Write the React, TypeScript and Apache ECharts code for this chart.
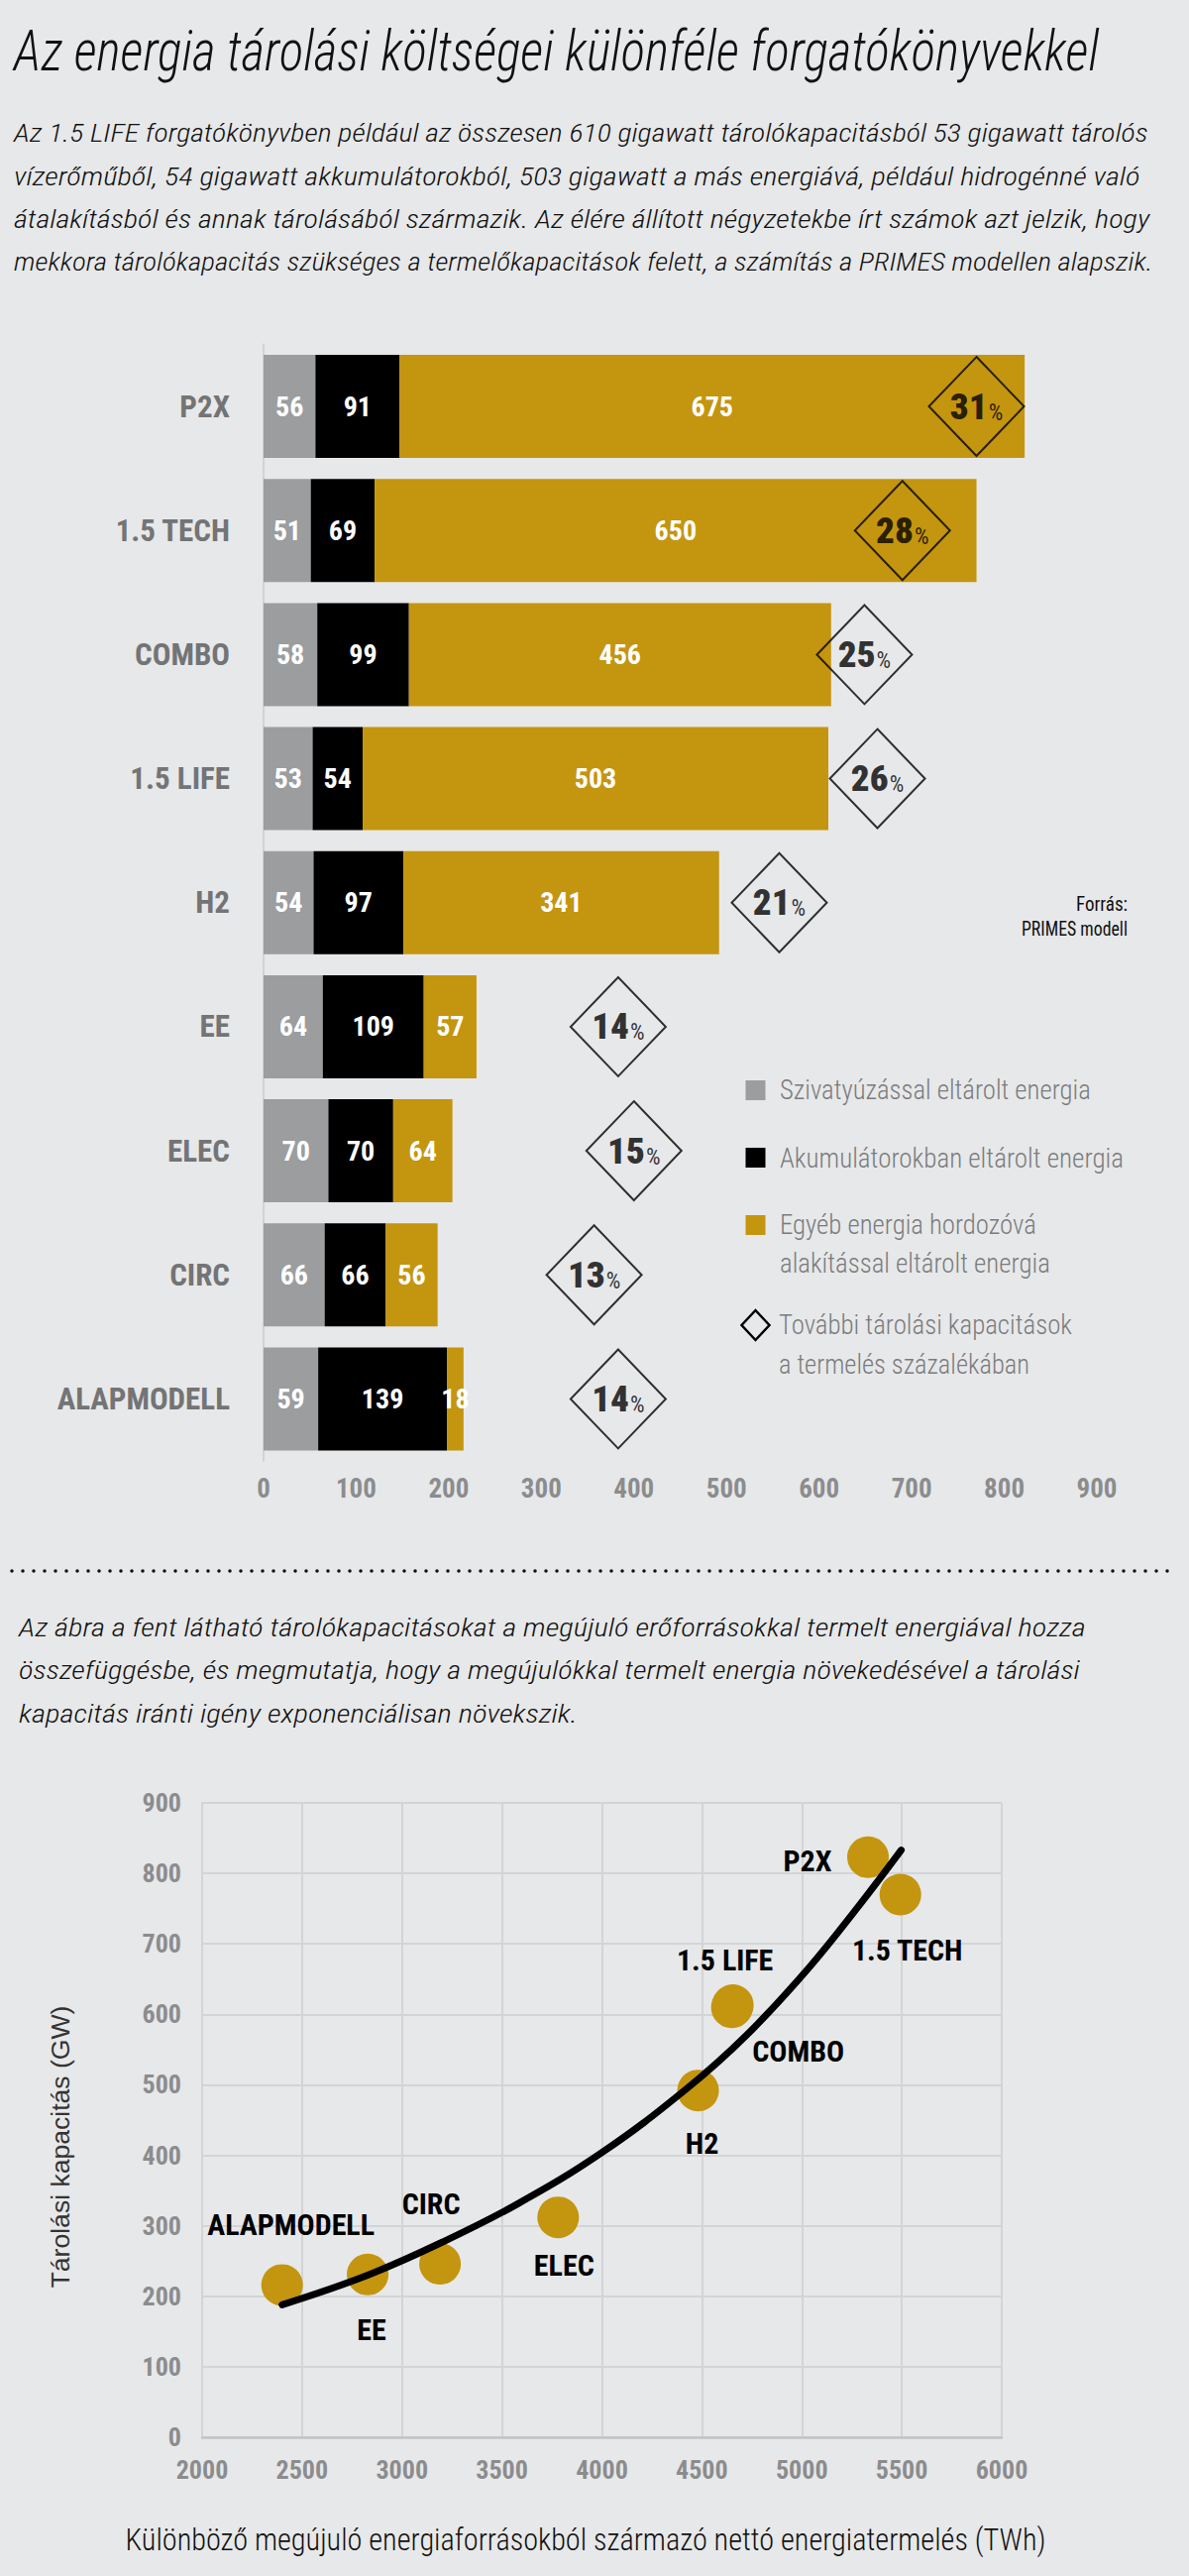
import React, { useEffect, useRef } from "react";
import * as echarts from "echarts";

// ---------- data ----------
const scenarios = ["P2X", "1.5 TECH", "COMBO", "1.5 LIFE", "H2", "EE", "ELEC", "CIRC", "ALAPMODELL"];
const pumpedGW = [56, 51, 58, 53, 54, 64, 70, 66, 59];
const batteryGW = [91, 69, 99, 54, 97, 109, 70, 66, 139];
const otherGW = [675, 650, 456, 503, 341, 57, 64, 56, 18];
const extraPct = [31, 28, 25, 26, 21, 14, 15, 13, 14];
const diamondAt = [770, 690, 649, 663, 557, 383, 400, 357, 383];

const pointNames = ["P2X", "1.5 TECH", "1.5 LIFE", "COMBO", "H2", "ELEC", "CIRC", "EE", "ALAPMODELL"];
const productionTWh = [5331, 5493, 4650, 4655, 4481, 3781, 3190, 2828, 2400];
const capacityGW = [823, 770, 610, 613, 492, 312, 246, 231, 216];
const curveTWh = [2400, 2828, 3203, 3578, 3995, 4413, 4725, 5038, 5288, 5497];
const curveGW = [188, 230, 277, 331, 403, 492, 571, 667, 755, 833];

const legendNames = [
  "Szivatyúzással eltárolt energia",
  "Akumulátorokban eltárolt energia",
  "Egyéb energia hordozóvá",
  "alakítással eltárolt energia",
  "További tárolási kapacitások",
  "a termelés százalékában",
];

const titleText = "Az energia tárolási költségei különféle forgatókönyvekkel";
const introLines = [
  "Az 1.5 LIFE forgatókönyvben például az összesen 610 gigawatt tárolókapacitásból 53 gigawatt tárolós",
  "vízerőműből, 54 gigawatt akkumulátorokból, 503 gigawatt a más energiává, például hidrogénné való",
  "átalakításból és annak tárolásából származik. Az élére állított négyzetekbe írt számok azt jelzik, hogy",
  "mekkora tárolókapacitás szükséges a termelőkapacitások felett, a számítás a PRIMES modellen alapszik.",
];
const secondLines = [
  "Az ábra a fent látható tárolókapacitásokat a megújuló erőforrásokkal termelt energiával hozza",
  "összefüggésbe, és megmutatja, hogy a megújulókkal termelt energia növekedésével a tárolási",
  "kapacitás iránti igény exponenciálisan növekszik.",
];
const sourceLines = ["Forrás:", "PRIMES modell"];
const xName = "Különböző megújuló energiaforrásokból származó nettó energiatermelés (TWh)";
const yName = "Tárolási kapacitás (GW)";

// ---------- styles ----------
const BG = "#e7e8e9";
const GOLD = "#c4950f";
const GRAYBAR = "#9b9d9f";
const CATCOL = "#737476";
const TICKCOL = "#8b8c8e";
const LEGCOL = "#7a7b7d";
const COND = "Roboto Condensed";

const labelOffset: Record<string, number[]> = {
  "P2X": [-61, 4],
  "1.5 TECH": [7, 56],
  "1.5 LIFE": [-7, -48],
  "COMBO": [66, 46],
  "H2": [4, 53],
  "ELEC": [6, 48],
  "CIRC": [-9, -61],
  "EE": [4, 56],
  "ALAPMODELL": [9, -61],
};

let mctx: CanvasRenderingContext2D | null = null;
function textWidth(text: string, font: string) {
  if (!mctx) mctx = document.createElement("canvas").getContext("2d");
  mctx!.font = font;
  return mctx!.measureText(text).width;
}

function fitText(
  text: string, x: number, y: number, width: number,
  o: { size: number; weight?: string | number; style?: string; family?: string; color: string; align?: string; rotation?: number }
) {
  const family = o.family || COND;
  const font = `${o.style || "normal"} ${o.weight || "normal"} ${o.size}px "${family}"`;
  const w = textWidth(text, font);
  return {
    type: "text",
    x, y,
    rotation: o.rotation || 0,
    scaleX: w > 0 ? width / w : 1,
    silent: true,
    style: {
      text,
      fill: o.color,
      fontSize: o.size,
      fontWeight: o.weight || "normal",
      fontStyle: o.style || "normal",
      fontFamily: family,
      textAlign: o.align || "left",
      textVerticalAlign: "middle",
    },
  };
}

export default function App() {
  const ref = useRef<HTMLDivElement>(null);
  useEffect(() => {
    document.body.style.margin = "0";
    if (!ref.current) return;
    const chart = echarts.init(ref.current, undefined, { renderer: "svg" });

    const graphics: any[] = [];
    graphics.push(fitText(titleText, 14, 51, 1095, { size: 58, style: "italic", weight: 300, color: "#111" }));
    introLines.forEach((t, i) => {
      const widths = [1145, 1137, 1147, 1150];
      graphics.push(fitText(t, 14, 134.5 + i * 43.5, widths[i], { size: 25, style: "italic", weight: 300, color: "#111" }));
    });
    graphics.push(fitText(sourceLines[0], 1138, 912, 52, { size: 20, color: "#111", align: "right" }));
    graphics.push(fitText(sourceLines[1], 1138, 937, 107, { size: 20, color: "#111", align: "right" }));

    // legend
    const sq = [GRAYBAR, "#000", GOLD];
    const sqY = [1100, 1168, 1236];
    sq.forEach((c, i) => {
      graphics.push({ type: "rect", silent: true, shape: { x: 752.5, y: sqY[i] - 10, width: 20, height: 20 }, style: { fill: c } });
    });
    graphics.push({
      type: "polygon", silent: true,
      shape: { points: [[762.5, 1322], [776.5, 1337], [762.5, 1352], [748.5, 1337]] },
      style: { fill: "none", stroke: "#000", lineWidth: 2.5 },
    });
    const legY = [1100, 1168, 1236, 1275, 1337, 1377];
    const legW = [314, 347, 259, 273, 296, 253];
    const legX = [787, 787, 787, 787, 786, 786];
    legendNames.forEach((t, i) => {
      graphics.push(fitText(t, legX[i], legY[i], legW[i], { size: 28, weight: 300, color: LEGCOL }));
    });

    // dotted separator
    graphics.push({
      type: "line", silent: true,
      shape: { x1: 12, y1: 1585, x2: 1180, y2: 1585 },
      style: { stroke: "#111", lineWidth: 3.5, lineDash: [0.01, 10.99], lineCap: "round" },
    });

    secondLines.forEach((t, i) => {
      const widths = [1077, 1071, 564];
      graphics.push(fitText(t, 19, 1642.5 + i * 43.3, widths[i], { size: 25, style: "italic", weight: 300, color: "#111" }));
    });

    graphics.push(fitText(yName, 61, 2166, 285, { size: 26, family: "Liberation Sans", color: "#333", align: "center", rotation: Math.PI / 2 }));
    graphics.push(fitText(xName, 591, 2562, 930, { size: 32, weight: 300, color: "#111", align: "center" }));

    const barLabel = { show: true, position: "inside", color: "#fff", fontWeight: "bold", fontSize: 28, fontFamily: COND };

    const option: any = {
      animation: false,
      backgroundColor: BG,
      textStyle: { fontFamily: COND },
      grid: [
        { left: 266, top: 347.5, width: 841, height: 1126.5 },
        { left: 204, top: 1819, width: 807, height: 640 },
      ],
      xAxis: [
        {
          gridIndex: 0, type: "value", min: 0, max: 900, interval: 100,
          axisLine: { show: false }, axisTick: { show: false }, splitLine: { show: false },
          axisLabel: { color: TICKCOL, fontWeight: "bold", fontSize: 27, margin: 14, fontFamily: COND },
        },
        {
          gridIndex: 1, type: "value", min: 2000, max: 6000, interval: 500,
          axisLine: { show: true, onZero: false, lineStyle: { color: "#c3c4c6", width: 2.5 } },
          axisTick: { show: false },
          splitLine: { show: true, lineStyle: { color: "#d3d4d6", width: 2 } },
          axisLabel: { color: TICKCOL, fontWeight: "bold", fontSize: 26, margin: 20, fontFamily: COND, formatter: (v: number) => String(v) },
        },
      ],
      yAxis: [
        {
          gridIndex: 0, type: "category", data: scenarios, inverse: true,
          axisLine: { show: true, lineStyle: { color: "#d2d3d5", width: 2 } },
          axisTick: { show: false },
          axisLabel: { color: CATCOL, fontWeight: "bold", fontSize: 31, margin: 34, fontFamily: COND },
        },
        {
          gridIndex: 1, type: "value", min: 0, max: 900, interval: 100,
          axisLine: { show: true, lineStyle: { color: "#d3d4d6", width: 2 } },
          axisTick: { show: false },
          splitLine: { show: true, lineStyle: { color: "#d3d4d6", width: 2 } },
          axisLabel: { color: TICKCOL, fontWeight: "bold", fontSize: 26, margin: 21, fontFamily: COND },
        },
      ],
      series: [
        { name: legendNames[0], type: "bar", stack: "t", xAxisIndex: 0, yAxisIndex: 0, barWidth: 104, data: pumpedGW, itemStyle: { color: GRAYBAR }, label: barLabel, silent: true },
        { name: legendNames[1], type: "bar", stack: "t", xAxisIndex: 0, yAxisIndex: 0, barWidth: 104, data: batteryGW, itemStyle: { color: "#000" }, label: barLabel, silent: true },
        { name: legendNames[2], type: "bar", stack: "t", xAxisIndex: 0, yAxisIndex: 0, barWidth: 104, data: otherGW, itemStyle: { color: GOLD }, label: barLabel, silent: true },
        {
          name: legendNames[4], type: "scatter", xAxisIndex: 0, yAxisIndex: 0, z: 5, silent: true,
          data: diamondAt.map((v, i) => [v, i]),
          symbol: "diamond", symbolSize: [96, 100],
          itemStyle: { color: "rgba(0,0,0,0)", borderColor: "#000", borderWidth: 2 },
          label: {
            show: true, position: "inside",
            formatter: (p: any) => `{n|${extraPct[p.dataIndex]}}{p|%}`,
            rich: {
              n: { fontSize: 37, fontWeight: 900, color: "#000", fontFamily: COND, lineHeight: 37, verticalAlign: "bottom" },
              p: { fontSize: 23, fontWeight: "normal", color: "#000", fontFamily: COND, lineHeight: 37, verticalAlign: "bottom", padding: [0, 0, 1, 1] },
            },
          },
        },
        {
          type: "scatter", xAxisIndex: 1, yAxisIndex: 1, z: 3, silent: true,
          symbolSize: 42, itemStyle: { color: GOLD, opacity: 1 },
          data: pointNames.map((n, i) => ({ name: n, value: [productionTWh[i], capacityGW[i]], label: { offset: labelOffset[n] } })),
          label: { show: true, position: "inside", formatter: "{b}", color: "#000", fontWeight: "bold", fontSize: 30, fontFamily: COND },
        },
        {
          type: "line", xAxisIndex: 1, yAxisIndex: 1, z: 4, silent: true,
          data: curveTWh.map((x, i) => [x, curveGW[i]]),
          smooth: 0.4, showSymbol: false, symbol: "none",
          lineStyle: { color: "#000", width: 7, cap: "round" },
        },
      ],
      graphic: graphics,
    };
    chart.setOption(option);
    return () => chart.dispose();
  }, []);
  return <div ref={ref} style={{ width: 1200, height: 2599, background: BG }} />;
}
